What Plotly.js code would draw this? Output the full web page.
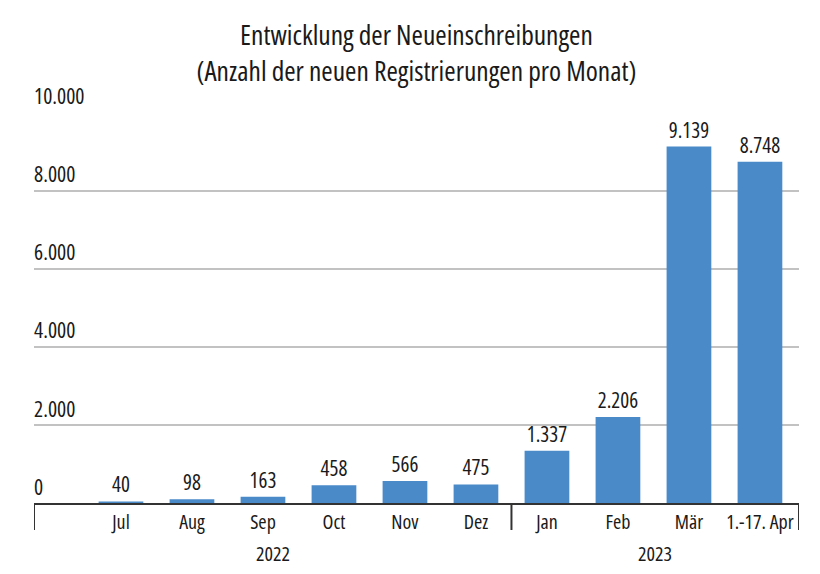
<!DOCTYPE html>
<html>
<head>
<meta charset="utf-8">
<script src="https://cdn.plot.ly/plotly-3.0.1.min.js"></script>
<style>
html,body{margin:0;padding:0;background:#fff;}
#chart{width:820px;height:574px;}
svg text{font-stretch:75% !important;}
</style>
</head>
<body>
<div id="chart"></div>
<script>
const months = ['Jul', 'Aug', 'Sep', 'Oct', 'Nov', 'Dez', 'Jan', 'Feb', 'Mär', '1.-17. Apr'];
const values = [40, 98, 163, 458, 566, 475, 1337, 2206, 9139, 8748];
const years = ['2022', '2023'];
const yearCounts = [6, 4];
const yTicks = [0, 2000, 4000, 6000, 8000, 10000];
const yTickLabels = ['0', '2.000', '4.000', '6.000', '8.000', '10.000'];

const FONT = '"Open Sans", "Roboto Condensed", sans-serif';
const TXT = '#1a1a1a';
const idx = months.map((m, i) => i);
const xMin = -1.225, xMax = 9.55;

const sep = yearCounts[0] - 0.5;
const shapes = [xMin, sep, xMax].map(x => ({
  type: 'line', xref: 'x', yref: 'paper', x0: x, x1: x, y0: 0, y1: -0.069,
  line: {color: '#333', width: 2}
}));
const yearCenters = [(xMin + sep) / 2, (sep + xMax) / 2];
const annotations = years.map((y, i) => ({
  text: y, x: yearCenters[i], xref: 'x', y: -0.128, yref: 'paper',
  showarrow: false, yanchor: 'middle', font: {family: FONT, size: 20, color: TXT}
})).concat(yTicks.map((v, i) => ({
  text: yTickLabels[i], x: 0, xref: 'paper', xanchor: 'left', xshift: -2,
  y: v, yref: 'y', yanchor: 'middle', yshift: 17, showarrow: false,
  font: {family: FONT, size: 21.5, color: TXT}
})));

const data = [{
  type: 'bar', x: idx, y: values, width: 0.63,
  marker: {color: '#4a8ac9'},
  texttemplate: '%{y:,}', textposition: 'outside',
  textfont: {family: FONT, size: 21, color: TXT}, cliponaxis: false,
  hoverinfo: 'skip'
}];

const layout = {
  width: 820, height: 574,
  margin: {l: 34, r: 21, t: 112, b: 71},
  paper_bgcolor: '#fff', plot_bgcolor: '#fff',
  separators: ',.',
  title: {
    text: 'Entwicklung der Neueinschreibungen<br>(Anzahl der neuen Registrierungen pro Monat)',
    x: 0.5, xanchor: 'center', xref: 'paper', y: 0.922, yref: 'container', yanchor: 'middle',
    font: {family: FONT, size: 27.5, color: TXT}
  },
  font: {family: FONT, color: TXT},
  showlegend: false,
  xaxis: {
    type: 'linear', range: [xMin, xMax], tickvals: idx, ticktext: months,
    showgrid: false, zeroline: false, ticks: '', showline: true, linecolor: '#333', linewidth: 2,
    tickfont: {family: FONT, size: 20, color: TXT}, fixedrange: true
  },
  yaxis: {
    range: [0, 10025], tickvals: yTicks, showticklabels: false,
    showgrid: true, gridcolor: '#c2c2c2', gridwidth: 2,
    zeroline: false, showline: false, ticks: '', fixedrange: true
  },
  shapes: shapes,
  annotations: annotations
};

Plotly.newPlot('chart', data, layout, {displayModeBar: false, staticPlot: true});
</script>
</body>
</html>
